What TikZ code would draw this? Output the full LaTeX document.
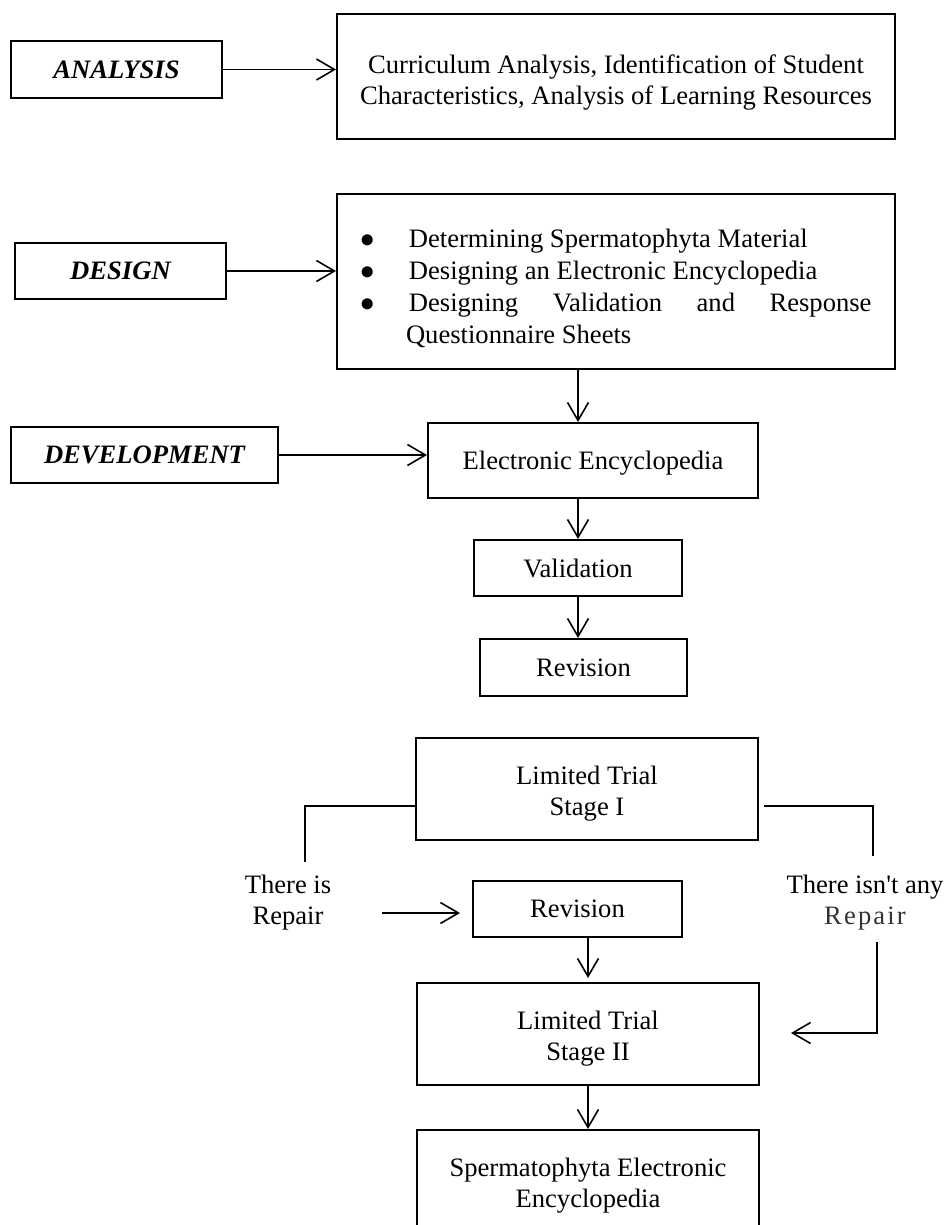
\documentclass[tikz,border=0pt]{standalone}
\usepackage{fontspec}
\setmainfont{Liberation Serif}
\usetikzlibrary{arrows.meta}
\tikzset{
	block/.style={
		draw,
		line width = 1pt,
		align = center,
		inner sep = 0pt
	},
	phase/.style={
		block,
		font = \fontsize{13.3}{15.5}\selectfont\bfseries\itshape
	},
	note/.style={
		align = center,
		inner sep = 0pt
	},
}
\tikzset{>={Straight Barb[length=9pt,width=10.5pt]}}

\begin{document}
\begin{tikzpicture}[x=0.5pt, y=-0.5pt, font=\fontsize{13.3}{15.5}\selectfont, line width=0.8pt]
    \path[use as bounding box, clip] (0,0) rectangle (946,1225);
    % phases on the left
    \node[phase, minimum width=105.5pt, minimum height=28.5pt] (analysis) at (116.5,69.5) {ANALYSIS};
    \node[phase, minimum width=105.5pt, minimum height=28pt] (design) at (120.5,271) {DESIGN};
    \node[phase, minimum width=133.5pt, minimum height=28pt] (development) at (144.5,455) {DEVELOPMENT};
    \node[block, minimum width=279pt, minimum height=62.5pt] (curriculum) at (616,76.5)
      {\rule{0pt}{15pt}Curriculum Analysis, Identification of Student\\Characteristics, Analysis of Learning Resources};
    \node[block, minimum width=279pt, minimum height=87.5pt, text width=255.5pt, align=justify] (designlist) at (616,281.5)
      {\fontsize{13.3}{16}\selectfont\sloppy\hyphenpenalty=10000
       \begin{list}{$\bullet$}{\setlength{\leftmargin}{22.75pt}\setlength{\labelwidth}{5.75pt}%
         \setlength{\labelsep}{17pt}\setlength{\topsep}{0pt}\setlength{\partopsep}{0pt}%
         \setlength{\itemsep}{0pt}\setlength{\parsep}{0pt}}
       \item Determining Spermatophyta Material
       \item Designing an Electronic Encyclopedia
       \item Designing Validation and Response Questionnaire Sheets
       \end{list}\par\vspace{5pt}};
    \node[block, minimum width=165pt, minimum height=37.5pt] (ee) at (593,460.5) {\rule{0pt}{12pt}Electronic Encyclopedia};
    \node[block, minimum width=104pt, minimum height=28pt] (validation) at (578,568) {Validation};
    \node[block, minimum width=103.5pt, minimum height=28.5pt] (revision) at (583.5,667.5) {Revision};
    % trials
    \node[block, minimum width=171pt, minimum height=51pt] (trial1) at (587,789) {\rule{0pt}{14pt}Limited Trial\\Stage I};
    \node[note] (yes) at (288,903) {There is\\Repair};
    \node[block, minimum width=104.5pt, minimum height=28pt] (revision2) at (577.5,909) {Revision};
    \node[note] (no) at (865,903)
      {There isn\textquotesingle t any\\{\addfontfeatures{LetterSpace=8}\color{black!80}Repair}};
    \node[block, minimum width=171pt, minimum height=51pt] (trial2) at (588,1034) {\rule{0pt}{14pt}Limited Trial\\Stage II};
    \node[block, minimum width=171pt, minimum height=52pt] (final) at (588,1182) {\rule{0pt}{13pt}Spermatophyta Electronic\\Encyclopedia};
    \coordinate (yesend) at (305,862);
    \coordinate (noend) at (873,856);
    \coordinate (yesarrow) at (382,913);
    \coordinate (nostart) at (877,942);
    \coordinate (notip) at (791,1033);

    \draw[->] (analysis.east) -- (analysis.east -| curriculum.west);
    \draw[->] (design.east) -- (design.east -| designlist.west);
    \draw[->] (development.east) -- (development.east -| ee.west);
    \draw[->] (designlist.south -| validation.north) -- (ee.north -| validation.north);
    \draw[->] (ee.south -| validation.north) -- (validation.north);
    \draw[->] (validation.south) -- (validation.south |- revision.north);
    \draw ([yshift=-8.5pt]trial1.west) -| (yesend);
    \draw ([xshift=2.5pt, yshift=-8.5pt]trial1.east) -| (noend);
    \draw[->, shorten >=6pt] (yesarrow) -- (yesarrow -| revision2.west);
    \draw[->, shorten >=2pt] (revision2.south -| trial2.north) -- (trial2.north);
    \draw[->] (nostart) |- (notip);
    \draw[->] (trial2.south) -- (final.north);
  \end{tikzpicture}
\end{document}
